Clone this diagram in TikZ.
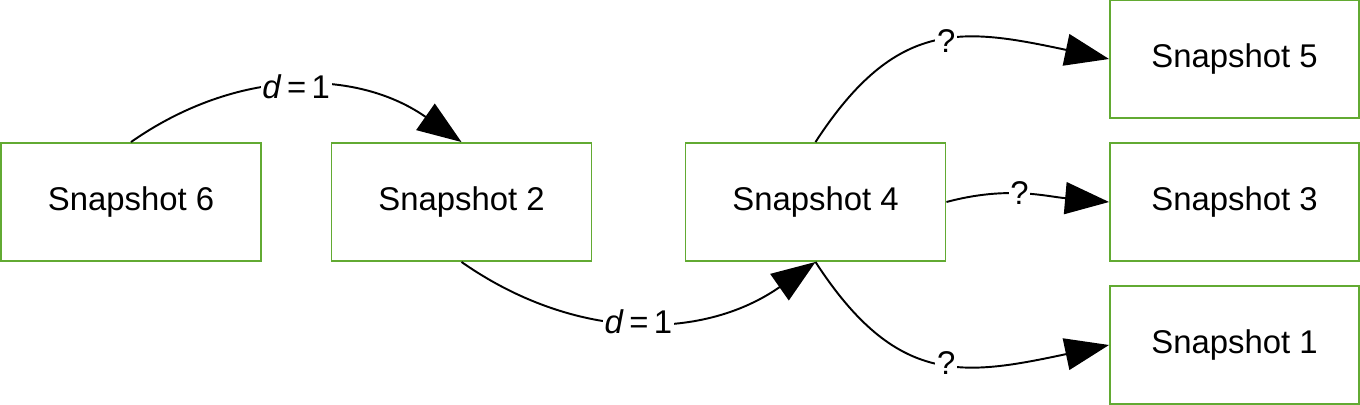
\documentclass[tikz,border=0pt]{standalone}
\usepackage{fontspec}
\setmainfont{Liberation Sans}
\usetikzlibrary{arrows.meta}
\definecolor{snapgreen}{RGB}{98,170,50}
\tikzset{
  snapbox/.style={draw=snapgreen,line width=1.1pt,minimum width=5.2cm,minimum height=2.36cm,
    font=\fontsize{18.7}{22}\selectfont},
  narrowbox/.style={snapbox,minimum width=4.98cm},
  link/.style={line width=1.1pt,-{Triangle[length=0.88cm,width=0.64cm]}},
  lbl/.style={fill=white,inner sep=1pt,font=\fontsize{18.7}{22}\selectfont}
}
\begin{document}
\begin{tikzpicture}
      \useasboundingbox (0,0) rectangle (27.2,8.08);
      \node[snapbox] (s6) at (2.62,4.04) {Snapshot 6};
      \node[snapbox] (s2) at (9.23,4.04) {Snapshot 2};
      \node[snapbox] (s4) at (16.31,4.04) {Snapshot 4};
      \node[narrowbox] (s5) at (24.69,6.9) {Snapshot 5};
      \node[narrowbox] (s3) at (24.69,4.04) {Snapshot 3};
      \node[narrowbox] (s1) at (24.69,1.18) {Snapshot 1};
      \draw[link] (s6.north) to[out=35,in=145] node[lbl] {\textit{d}\,=\,1} (s2.north);
      \draw[link] (s2.south) to[out=-35,in=-145] node[lbl] {\textit{d}\,=\,1} (s4.south);
      \draw[link] (s4.north) to[out=57,in=168,looseness=1.25] node[lbl,pos=0.53] {?} (s5.west);
      \draw[link] (s4.east) to[out=15,in=175] node[lbl,pos=0.45] {?} (s3.west);
      \draw[link] (s4.south) to[out=-57,in=192,looseness=1.25] node[lbl,pos=0.53] {?} (s1.west);
    \end{tikzpicture}
\end{document}
